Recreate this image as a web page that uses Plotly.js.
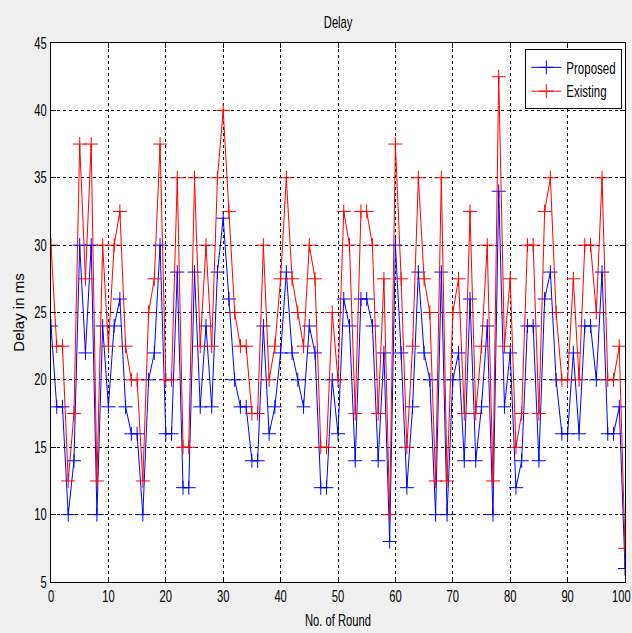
<!DOCTYPE html>
<html>
<head>
<meta charset="utf-8">
<script src="https://cdn.plot.ly/plotly-3.0.1.min.js"></script>
<style>
html,body{margin:0;padding:0;background:#f0f0f0;}
#chart{width:632px;height:633px;}
</style>
</head>
<body>
<div id="chart"></div>
<script>
const rounds = [];
for (let i = 0; i <= 100; i++) rounds.push(i);

const proposed = [24,18,18,10,14,30,22,30,10,24,
                  18,24,26,18,16,16,10,20,22,30,
                  16,16,28,12,12,28,18,24,18,28,
                  32,26,20,18,18,14,14,24,16,18,
                  22,28,22,20,18,24,22,12,12,20,
                  16,26,24,14,26,26,24,14,22,8,
                  30,22,12,18,28,22,20,10,28,10,
                  20,22,14,26,14,18,24,10,34,18,
                  22,12,14,24,24,14,26,28,20,16,
                  16,22,16,24,24,20,28,16,16,18,
                  6];

const existing = [30,22.5,22.5,12.5,17.5,37.5,27.5,37.5,12.5,30,
                  22.5,30,32.5,22.5,20,20,12.5,25,27.5,37.5,
                  20,20,35,15,15,35,22.5,30,22.5,35,
                  40,32.5,25,22.5,22.5,17.5,17.5,30,20,22.5,
                  27.5,35,27.5,25,22.5,30,27.5,15,15,25,
                  20,32.5,30,17.5,32.5,32.5,30,17.5,27.5,10,
                  37.5,27.5,15,22.5,35,27.5,25,12.5,35,12.5,
                  25,27.5,17.5,32.5,17.5,22.5,30,12.5,42.5,22.5,
                  27.5,15,17.5,30,30,17.5,32.5,35,25,20,
                  20,27.5,20,30,30,25,35,20,20,22.5,
                  7.5];

const xTicks = [0,10,20,30,40,50,60,70,80,90,100];
const yTicks = [5,10,15,20,25,30,35,40,45];

const FONT = "Liberation Sans, Arial, sans-serif";

const traces = [
  {
    x: rounds, y: proposed, name: 'Proposed', type: 'scatter', mode: 'lines+markers',
    line: {color: '#0000ff', width: 1},
    marker: {symbol: 'cross-thin', size: 10, color: '#0000ff', line: {color: '#0000ff', width: 1}}
  },
  {
    x: rounds, y: existing, name: 'Existing', type: 'scatter', mode: 'lines+markers',
    line: {color: '#ff0000', width: 1},
    marker: {symbol: 'cross-thin', size: 10, color: '#ff0000', line: {color: '#ff0000', width: 1}}
  }
];

const axisCommon = {
  showline: true, linecolor: '#000', linewidth: 1, mirror: 'allticks',
  ticks: 'inside', ticklen: 5, tickcolor: '#000', tickwidth: 1,
  showgrid: true, gridcolor: '#000', gridwidth: 1, griddash: '3px,3px',
  zeroline: false,
  tickfont: {family: FONT, size: 16, color: '#000'}
};

const layout = {
  width: 632, height: 633,
  paper_bgcolor: '#f0f0f0', plot_bgcolor: '#ffffff',
  margin: {l: 51, r: 7, t: 43, b: 51},
  showlegend: true,
  title: {text: 'Delay', font: {family: FONT, size: 16, color: '#000'}, x: 0.535, xanchor: 'center', y: 0.965, yanchor: 'middle'},
  font: {family: FONT, color: '#000'},
  xaxis: Object.assign({}, axisCommon, {
    range: [0, 100], tickvals: xTicks, ticktext: xTicks.map(String),
    ticklabeloverflow: 'allow',
    title: {text: 'No. of Round', font: {family: FONT, size: 16, color: '#000'}, standoff: 10}
  }),
  yaxis: Object.assign({}, axisCommon, {
    range: [5, 45], tickvals: yTicks, ticktext: yTicks.map(String),
    ticklabeloverflow: 'allow',
    title: {text: 'Delay in ms', font: {family: FONT, size: 15, color: '#000'}, standoff: 0}
  }),
  legend: {
    x: 0.995, y: 0.988, xanchor: 'right', yanchor: 'top',
    bgcolor: '#ffffff', bordercolor: '#000', borderwidth: 1,
    font: {family: FONT, size: 16, color: '#000'},
    tracegroupgap: 0, itemwidth: 30
  }
};

// narrow a text horizontally about its anchor point (the drawn glyphs stay real text)
function narrow(t, f, dx) {
  let base = t.getAttribute('data-base-transform');
  if (base === null) {
    base = t.getAttribute('transform') || '';
    t.setAttribute('data-base-transform', base);
  }
  const ax = parseFloat(t.getAttribute('x') || '0');
  t.setAttribute('transform',
    (base + ' translate(' + (ax + (dx || 0)).toFixed(2) + ',0) scale(' + f + ',1) translate(' + (-ax).toFixed(2) + ',0)').trim());
}

function narrowAll(selector, f) {
  let saved = 0;
  document.querySelectorAll(selector).forEach(function (t) {
    const w = t.getComputedTextLength();
    narrow(t, f, 0);
    saved = Math.max(saved, w * (1 - f));
  });
  return saved;
}

Plotly.newPlot('chart', traces, layout, {displayModeBar: false, staticPlot: true}).then(function () {
  narrowAll('#chart .xtick text', 0.7);
  narrowAll('#chart .ytick text', 0.7);
  narrowAll('#chart text.gtitle', 0.7);
  narrowAll('#chart text.xtitle', 0.7);

  // keep the last x tick label inside the page
  const root = document.getElementById('chart').getBoundingClientRect();
  document.querySelectorAll('#chart .xtick text').forEach(function (t) {
    const r = t.getBoundingClientRect();
    const over = r.right - root.left - 631;
    if (over > 0) narrow(t, 0.7, -over);
  });

  // narrow legend text, then shrink the legend box to match
  const leg = document.querySelector('#chart g.legend');
  if (leg) {
    const d = narrowAll('#chart g.legend text.legendtext', 0.72);
    const bg = leg.querySelector('rect.bg');
    if (bg && d > 0) {
      bg.setAttribute('width', (parseFloat(bg.getAttribute('width')) - d).toFixed(2));
      const tr = leg.getAttribute('transform') || '';
      const m = tr.match(/translate\(\s*([-\d.e]+)[ ,]+([-\d.e]+)\s*\)/);
      if (m) {
        leg.setAttribute('transform', 'translate(' + (parseFloat(m[1]) + d).toFixed(2) + ',' + m[2] + ')');
      }
    }
  }
});
</script>
</body>
</html>
